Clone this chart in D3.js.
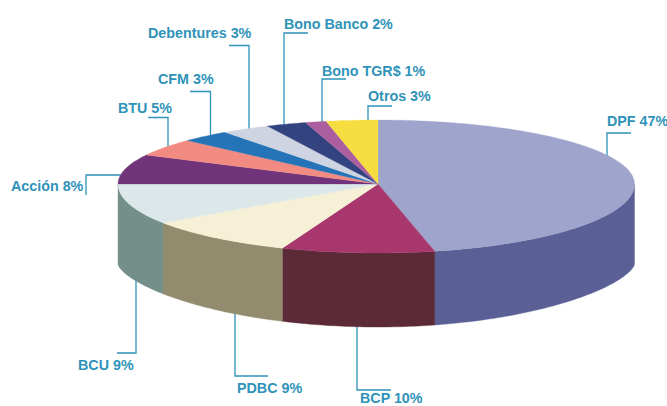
<!DOCTYPE html>
<html>
<head>
<meta charset="utf-8">
<script src="https://cdn.jsdelivr.net/npm/d3@7/dist/d3.min.js"></script>
<style>
html,body{margin:0;padding:0;background:#fff;overflow:hidden}
svg{display:block}
text{font-family:"Liberation Sans",Arial,sans-serif;font-weight:700;font-size:14.3px;fill:#2f93b9}
</style>
</head>
<body>
<svg id="c" width="667" height="406"></svg>
<script>
// Data
const categories = ["DPF","BCP","PDBC","BCU","Acción","BTU","CFM","Debentures","Bono Banco","Bono TGR$","Otros"];
const printedPercent = [47,10,9,9,8,5,3,3,2,1,3];
// Slice sizes as actually drawn in the picture (they differ a little from the printed labels)
const drawnShare = [46.45,9.55,9.5,9.5,7.5,4.4,3.1,3.0,2.5,1.3,3.2];
const topColors = ["#9ea4cb","#a8376d","#f6f0d6","#dbe7e9","#71347a","#f28b82","#2474b7","#cfd4e2","#33437f","#ac5f9e","#f6de40"];
const sideColors = ["#5a6095","#5c2937","#938b6d","#748f8a","#71347a","#f28b82","#2474b7","#cfd4e2","#33437f","#ac5f9e","#f6de40"];

// Label layout (annotation placement, separate from the data)
const labelAnchors = [[607,126],[360,403],[237,393],[78,370],[11,191],[118,113],[158,84],[148,38],[284,29],[322,76],[368,101]];
const leaderRoutes = [
  [[631,133],[607,133],[607,165]],
  [[391,390],[357,390],[357,320]],
  [[268,376],[235,376],[235,305]],
  [[117,353],[136,353],[136,270]],
  [[86,195],[86,175],[125,175]],
  [[148,117.5],[168,117.5],[168,150]],
  [[190,91.5],[210.5,91.5],[210.5,140]],
  [[229,45.5],[249,45.5],[249,132]],
  [[308,33],[284,33],[284,128]],
  [[346,79],[322,79],[322,125]],
  [[392,106],[368,106],[368,125]]
];

const svg = d3.select("#c");
const sx = d3.scaleLinear().domain([-1,0,1]).range([118,378,634.5]);
const sy = d3.scaleLinear().domain([-1,0,1]).range([120,184,253]);
// Lower rim of the wall
const rimY = c => 264 + 63*Math.pow(Math.max(0,c),1.3);

const pie = d3.pie().value(d=>d).sort(null)(drawnShare);
const line = d3.line();
const topPt = a => [sx(Math.sin(a)), sy(-Math.cos(a))];
const steps = (a,b) => { const n=Math.max(2,Math.ceil((b-a)*60)); return d3.range(n+1).map(i=>a+(b-a)*i/n); };

// leader lines sit behind the pie
svg.append("g").selectAll("path").data(leaderRoutes).join("path")
  .attr("d",d=>line(d)).attr("fill","none").attr("stroke","#2f93b9").attr("stroke-width",1.3);

// side walls
const H = Math.PI/2;
svg.append("g").selectAll("path").data(pie.filter(p=>p.endAngle>H && p.startAngle<3*H-1e-6)).join("path")
  .attr("d",p=>{
    const a=Math.max(p.startAngle,H), b=Math.min(p.endAngle,3*H), ss=steps(a,b);
    const up=ss.map(topPt);
    const low=ss.slice().reverse().map(t=>[sx(Math.sin(t)),rimY(-Math.cos(t))]);
    return line(up.concat(low))+"Z";
  })
  .attr("fill",p=>sideColors[p.index]).attr("stroke",p=>sideColors[p.index]).attr("stroke-width",0.4);

// top face
svg.append("g").selectAll("path").data(pie).join("path")
  .attr("d",p=>line([[sx(0),sy(0)]].concat(steps(p.startAngle,p.endAngle).map(topPt)))+"Z")
  .attr("fill",p=>topColors[p.index]).attr("stroke",p=>topColors[p.index]).attr("stroke-width",0.3);

// labels
svg.append("g").selectAll("text").data(categories).join("text")
  .attr("x",(d,i)=>labelAnchors[i][0]).attr("y",(d,i)=>labelAnchors[i][1])
  .text((d,i)=>`${d} ${printedPercent[i]}%`);
</script>
</body>
</html>
